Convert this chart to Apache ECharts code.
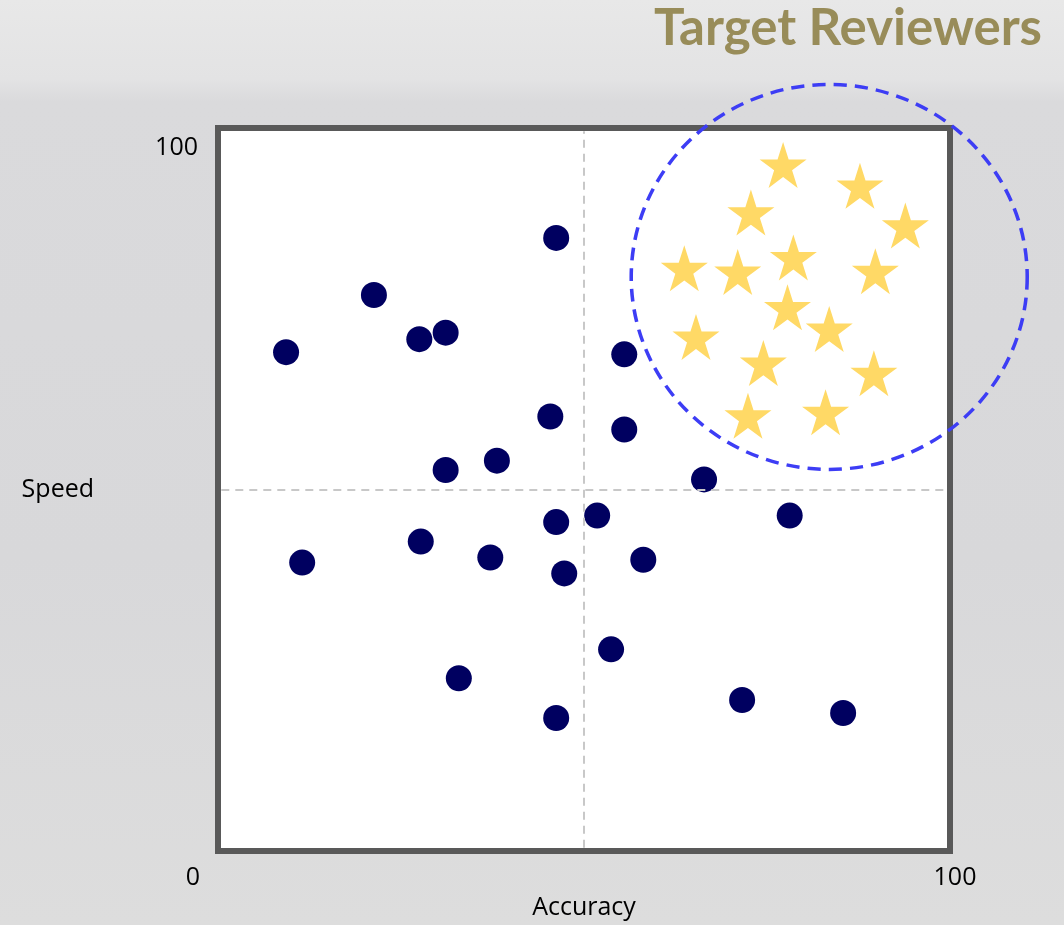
<!DOCTYPE html>
<html>
<head>
<meta charset="utf-8">
<script src="https://cdn.jsdelivr.net/npm/echarts@6/dist/echarts.min.js"></script>
<style>
html,body{margin:0;padding:0;width:1064px;height:925px;overflow:hidden;}
#chart{width:1064px;height:925px;}
</style>
</head>
<body>
<div id="chart"></div>
<script>
// ---- data ----
const titleText = 'Target Reviewers';
const xAxisName = 'Accuracy';
const yAxisName = 'Speed';
const axisMin = 0;
const axisMax = 100;
const midValue = 50;

// reviewers (navy dots): [accuracy, speed]
const reviewerAccuracy = [46.2, 21.3, 9.3, 27.5, 31.1, 55.5, 45.4, 55.5, 31.1, 38.1, 66.4, 46.2, 51.8, 78.1, 27.7, 11.5, 37.2, 47.3, 58.1, 53.7, 32.9, 71.6, 85.4, 46.2];
const reviewerSpeed    = [84.8, 76.9, 69.0, 70.8, 71.7, 68.7, 60.1, 58.3, 52.7, 54.0, 51.4, 45.5, 46.4, 46.4, 42.8, 39.9, 40.6, 38.4, 40.3, 27.9, 23.9, 20.9, 19.1, 18.4];

// target reviewers (gold stars)
const targetAccuracy = [77.2, 87.7, 72.8, 93.9, 63.7, 71.0, 78.6, 89.8, 77.8, 83.5, 65.3, 74.5, 89.6, 72.4, 83.0];
const targetSpeed    = [94.9, 92.0, 88.3, 86.5, 80.6, 80.1, 82.1, 80.2, 75.2, 72.2, 71.1, 67.5, 66.1, 60.2, 60.7];

// highlight ring around the target group
const ringCenter = [83.5, 79.4];

// ---- chart ----
const reviewers = reviewerAccuracy.map((x, i) => [x, reviewerSpeed[i]]);
const targets = targetAccuracy.map((x, i) => [x, targetSpeed[i]]);
const starPath = 'path://M50 0 L61.23 34.55 L97.55 34.55 L68.16 55.9 L79.39 90.45 L50 69.1 L20.61 90.45 L31.84 55.9 L2.45 34.55 L38.77 34.55 Z';
const labelFont = '"Open Sans", "Noto Sans", sans-serif';

const chart = echarts.init(document.getElementById('chart'), null, {renderer: 'canvas', width: 1064, height: 925});
chart.setOption({
  animation: false,
  backgroundColor: {
    type: 'linear', x: 0, y: 0, x2: 0, y2: 1,
    colorStops: [
      {offset: 0, color: '#E8E8E8'},
      {offset: 0.085, color: '#E3E3E4'},
      {offset: 0.11, color: '#DADADC'},
      {offset: 0.6, color: '#D8D8DA'},
      {offset: 1, color: '#DDDDDD'}
    ]
  },
  title: {
    text: titleText,
    right: 22,
    top: 3,
    padding: 0,
    textStyle: {fontFamily: 'Lato, "Open Sans", sans-serif', fontWeight: 'bold', fontSize: 51, color: '#988C59'}
  },
  grid: {
    left: 218, top: 128, width: 732, height: 732,
    show: true, backgroundColor: '#FFFFFF', borderColor: '#595959', borderWidth: 6
  },
  xAxis: {
    type: 'value', min: axisMin, max: axisMax, interval: 50,
    name: xAxisName, nameLocation: 'middle', nameGap: 38,
    nameTextStyle: {fontFamily: labelFont, fontSize: 25, color: '#000'},
    axisLine: {show: false}, axisTick: {show: false}, splitLine: {show: false},
    axisLabel: {
      margin: 14, fontFamily: labelFont, fontSize: 25, color: '#000',
      formatter: v => v === axisMin ? '{a|' + v + '}' : (v === axisMax ? '{b|' + v + '}' : ''),
      rich: {
        a: {fontFamily: labelFont, fontSize: 25, color: '#000', padding: [0, 50, 0, 0]},
        b: {fontFamily: labelFont, fontSize: 25, color: '#000', padding: [0, 0, 0, 10]}
      }
    }
  },
  yAxis: {
    type: 'value', min: axisMin, max: axisMax, interval: 50,
    name: yAxisName, nameLocation: 'middle', nameRotate: 0, nameGap: 124,
    nameTextStyle: {fontFamily: labelFont, fontSize: 25, color: '#000'},
    axisLine: {show: false}, axisTick: {show: false}, splitLine: {show: false},
    axisLabel: {
      margin: 20, fontFamily: labelFont, fontSize: 25, color: '#000',
      formatter: v => v === axisMax ? '{t|' + v + '}' : '',
      rich: {
        t: {fontFamily: labelFont, fontSize: 25, color: '#000', padding: [39, 0, 0, 0]}
      }
    }
  },
  series: [
    {
      name: 'Reviewers', type: 'scatter', data: reviewers,
      symbol: 'circle', symbolSize: 26,
      itemStyle: {color: '#000060', opacity: 1},
      z: 3,
      markLine: {
        silent: true, symbol: 'none', label: {show: false},
        lineStyle: {color: '#C8C8C8', width: 2, type: [8, 6], opacity: 1},
        data: [
          [{coord: [midValue, axisMin + 0.45]}, {coord: [midValue, axisMax - 0.45]}],
          [{coord: [axisMin + 0.45, midValue]}, {coord: [axisMax - 0.45, midValue]}]
        ]
      }
    },
    {
      name: 'Target Reviewers', type: 'scatter', data: targets,
      symbol: starPath, symbolSize: [47, 46],
      itemStyle: {color: '#FFD966', opacity: 1},
      z: 4
    },
    {
      name: 'Target Ring', type: 'scatter', data: [ringCenter],
      symbol: 'circle', symbolSize: [396, 385], clip: false, silent: true,
      itemStyle: {color: 'rgba(0,0,0,0)', borderColor: '#3D3DF5', borderWidth: 3.5, borderType: [13, 8], opacity: 1},
      z: 5
    }
  ]
});
</script>
</body>
</html>
